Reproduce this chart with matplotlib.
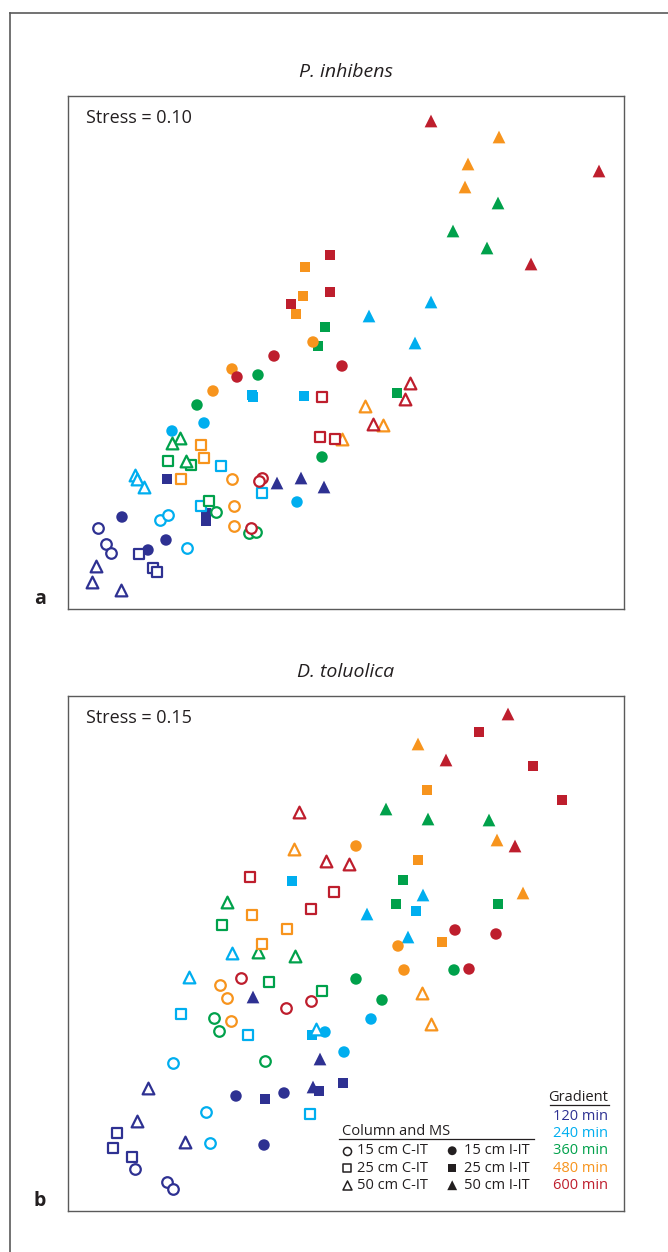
import numpy as np
import matplotlib
matplotlib.use("Agg")
import matplotlib.pyplot as plt
from matplotlib.lines import Line2D

plt.rcParams["font.family"] = ["Open Sans", "DejaVu Sans"]

# NMDS ordination coordinates (arbitrary units).
# Order within each panel: gradient (120..600 min), then column/MS type
# (15 cm C-IT, 15 cm I-IT, 25 cm C-IT, 25 cm I-IT, 50 cm C-IT, 50 cm I-IT),
# three replicates each.
gradients = ["120 min", "240 min", "360 min", "480 min", "600 min"]
columns = ["15 cm C-IT", "15 cm I-IT", "25 cm C-IT", "25 cm I-IT", "50 cm C-IT", "50 cm I-IT"]

inhibens_x = [
    30, 38, 43, 54, 98, 80, 71, 85, 89, 99, 138, 138, 28, 24, 53, 209, 233, 256,
    92, 100, 119, 104, 136, 229, 153, 194, 133, 184, 185, 236, 67, 69, 76, 363, 301, 347,
    148, 181, 188, 129, 190, 254, 100, 123, 141, 257, 250, 329, 112, 104, 118, 430, 385, 419,
    164, 166, 166, 245, 164, 145, 133, 136, 113, 237, 235, 228, 274, 297, 315, 431, 400, 397,
    194, 191, 183, 206, 274, 169, 254, 252, 267, 262, 262, 223, 342, 337, 305, 363, 531, 463,
]
inhibens_y = [
    81, 65, 56, 92, 69, 59, 55, 41, 37, 130, 96, 88, 43, 27, 19, 126, 131, 122,
    89, 94, 61, 178, 186, 107, 143, 116, 103, 214, 212, 213, 134, 130, 122, 307, 293, 266,
    97, 76, 77, 204, 234, 152, 148, 144, 108, 282, 263, 216, 171, 166, 148, 406, 378, 361,
    130, 103, 83, 267, 240, 218, 164, 151, 130, 342, 313, 295, 170, 203, 184, 472, 445, 422,
    131, 128, 81, 253, 243, 232, 212, 172, 170, 354, 317, 305, 226, 210, 185, 488, 438, 345,
]
toluolica_x = [
    67, 99, 105, 168, 216, 196, 49, 45, 64, 197, 251, 275, 80, 69, 117, 185, 252, 245,
    105, 138, 142, 257, 276, 303, 113, 180, 242, 224, 244, 348, 164, 121, 248, 355, 299, 340,
    146, 151, 197, 288, 314, 386, 154, 201, 254, 335, 328, 430, 159, 190, 227, 318, 360, 421,
    152, 159, 163, 288, 330, 336, 184, 219, 194, 359, 350, 374, 226, 354, 363, 350, 429, 455,
    173, 218, 243, 387, 428, 401, 182, 266, 243, 411, 465, 494, 231, 258, 281, 440, 378, 447,
]
toluolica_y = [
    42, 29, 22, 115, 118, 66, 78, 63, 54, 112, 120, 128, 123, 90, 69, 214, 152, 124,
    148, 99, 68, 179, 159, 192, 197, 176, 97, 330, 176, 300, 258, 234, 182, 316, 297, 274,
    193, 180, 150, 232, 211, 241, 286, 229, 220, 331, 307, 307, 309, 259, 255, 402, 392, 391,
    226, 213, 190, 365, 265, 241, 296, 282, 267, 421, 351, 269, 362, 218, 187, 467, 371, 318,
    233, 203, 210, 281, 277, 242, 334, 319, 302, 479, 445, 411, 399, 350, 347, 497, 451, 365,
]

colors = ["#2e3192", "#00aeef", "#00a14b", "#f7941d", "#be1e2d"]
shapes = ["o", "o", "s", "s", "^", "^"]
filled = [False, True, False, True, False, True]
sizes = {"o": 68, "s": 62, "^": 84}
frame_color = "#5a5a5a"
ink = "#231f20"


def draw_nmds(ax, xs, ys, ymax):
    xs = np.array(xs).reshape(len(gradients), len(columns), 3)
    ys = np.array(ys).reshape(len(gradients), len(columns), 3)
    for g, color in enumerate(colors):
        for c, shape in enumerate(shapes):
            if filled[c]:
                ax.scatter(xs[g, c], ys[g, c], marker=shape, s=sizes[shape],
                           color=color, edgecolors="none", zorder=3)
            else:
                ax.scatter(xs[g, c], ys[g, c], marker=shape, s=sizes[shape] * 0.85,
                           facecolors="white", edgecolors=color, linewidths=1.6, zorder=3)
    ax.set_xlim(0, 556)
    ax.set_ylim(0, ymax)
    ax.set_xticks([])
    ax.set_yticks([])
    for sp in ax.spines.values():
        sp.set_color(frame_color)
        sp.set_linewidth(1.0)


fig = plt.figure(figsize=(6.68, 12.52), dpi=100)
W, H = 668, 1252

# outer frame (top and left edges only)
fig.add_artist(Line2D([10 / W, 1.0], [1 - 13 / H, 1 - 13 / H], color=frame_color, lw=1.2))
fig.add_artist(Line2D([10 / W, 10 / W], [0, 1 - 13 / H], color=frame_color, lw=1.2))

ax_a = fig.add_axes([68 / W, 1 - 609 / H, 556 / W, 513 / H])
ax_b = fig.add_axes([68 / W, 1 - 1211 / H, 556 / W, 515 / H])

draw_nmds(ax_a, inhibens_x, inhibens_y, 513)
draw_nmds(ax_b, toluolica_x, toluolica_y, 515)

for ax, title, stress, letter in [(ax_a, "P. inhibens", "Stress = 0.10", "a"),
                                  (ax_b, "D. toluolica", "Stress = 0.15", "b")]:
    ax.text(0.5, 1.047, title, transform=ax.transAxes, ha="center", va="center",
            fontsize=14, fontstyle="italic", color=ink)
    ax.text(0.032, 0.957, stress, transform=ax.transAxes, ha="left", va="center",
            fontsize=13, color=ink)
    ax.text(-0.04, 0.0, letter, transform=ax.transAxes, ha="right", va="bottom",
            fontsize=14, fontweight="bold", color=ink)

# legends inside panel b
tr = ax_b.transAxes
ax_b.text(0.971, 0.221, "Gradient", transform=tr, ha="right", va="center",
          fontsize=10.5, color=ink)
ax_b.plot([0.867, 0.973], [0.206, 0.206], transform=tr, color=ink, lw=0.9,
          clip_on=False)
grad_y = [0.184, 0.151, 0.117, 0.083, 0.050]
for label, color, yy in zip(gradients, colors, grad_y):
    ax_b.text(0.971, yy, label, transform=tr, ha="right", va="center",
              fontsize=10.5, color=color)

ax_b.text(0.492, 0.154, "Column and MS", transform=tr, ha="left", va="center",
          fontsize=10.5, color=ink)
ax_b.plot([0.487, 0.838], [0.140, 0.140], transform=tr, color=ink, lw=0.9)
row_y = [0.117, 0.083, 0.050]
for i, yy in enumerate(row_y):
    for j, (mx, tx) in enumerate([(0.502, 0.520), (0.691, 0.712)]):
        c = 2 * i + j
        shape = shapes[c]
        if filled[c]:
            ax_b.scatter([mx], [yy], marker=shape, s=sizes[shape] * 0.6, color=ink,
                         edgecolors="none", transform=tr, clip_on=False)
        else:
            ax_b.scatter([mx], [yy], marker=shape, s=sizes[shape] * 0.5, facecolors="white",
                         edgecolors=ink, linewidths=1.1, transform=tr, clip_on=False)
        ax_b.text(tx, yy, columns[c], transform=tr, ha="left", va="center",
                  fontsize=10.5, color=ink)

fig.savefig("out.png", dpi=100)
